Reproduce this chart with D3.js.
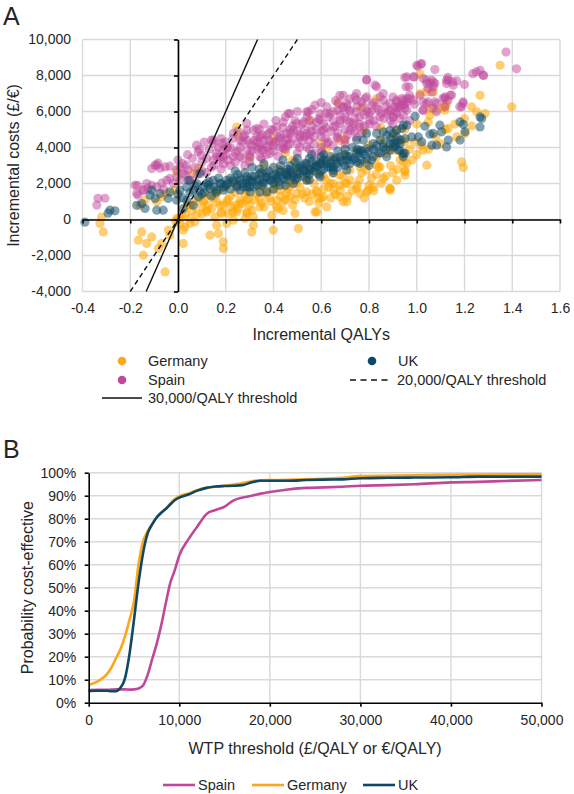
<!DOCTYPE html>
<html><head><meta charset="utf-8">
<script src="https://cdn.jsdelivr.net/npm/d3@7"></script>
<style>
body{margin:0;background:#fff}
text{font-family:"Liberation Sans",Arial,sans-serif;fill:#262626}
</style></head>
<body><svg id="c" width="574" height="794"></svg>
<script>
// ---------- DATA (panel A: [incremental QALYs, incremental cost in thousands]) ----------
const germanyPts = [[-.32,.14],[-.327,-.22],[-.313,-.69],
[-.152,-.69],[-.166,-1.15],[-.131,-1.33],[-.11,-.97],[-.145,-1.98],[-.054,-2.91],[-.04,-.59],[-.034,-.87],[-.068,-1.33],[-.082,-1.61],
[-.005,.06],[.008,-.22],[.029,-.41],[.05,-.22],[.071,-.13],[.022,-.59],[.022,-1.33],[.05,.06],[.015,.24],
[.12,.42],[.155,.14],[.162,-.32],[.183,.33],[.19,-1.61],[.19,-1.24],[.204,-.22],[.232,-.04],[.134,-.87],[.169,-.78],[.211,.33],[.239,.79],[.246,.42],[.281,.06],[.288,.42],
[-.159,.79],[-.138,1.07],[-.089,.98],[-.068,1.26],[-.047,1.44],[-.013,1.63],
[.106,.98],[.127,.79],[.162,.98],[.176,.79],[.204,.98],[.26,1.07],[.295,1.17],[.225,.7],
[-.005,2.64],[.085,2.83],[.064,2.55],
[.316,-.32],[.309,-.69],[.399,-.59],[.504,-.5],
[.288,.33],[.316,.14],[.393,.24],[.413,1.07],[.441,.98],[.469,1.26],[.497,1.44],[.539,1.53],[.581,1.53],[.49,.33],[.574,.42],[.623,.7],[.588,1.17],[.609,1.26],[.678,1.26],[.707,.98],[.651,1.63],[.678,1.9],[.707,2.0],[.748,1.72],[.762,1.44],[.79,1.53],[.818,1.81],[.86,2.28],[.888,1.72],[.916,2.18],[.951,2.46],[.958,3.11],[.93,3.3],[.902,3.85],[.832,3.48],[.874,3.67],[.846,2.92],[.79,2.74],
[.26,.89],[.288,1.07],[.343,1.17],[.372,1.44],[.399,1.63],[.427,1.63],[.469,1.81],[.413,.7],[.343,.7],[.455,1.44],[.497,2.0],[.539,2.18],[.609,2.37],[.651,2.55],[.678,2.46],[.72,2.74],[.637,2.0],[.762,2.92],[.79,3.11],[.832,3.02],
[1.349,8.57],[1.265,6.9],[1.398,6.26],[1.23,6.26],[1.251,5.98],[1.286,5.89],[1.188,3.2],[1.195,2.89],[1.014,7.0],[1.069,7.09],[1.118,6.26],[1.118,6.07],[1.055,6.16],[1.055,5.79],[1.048,5.42],[1.132,5.06],[1.167,4.59],[1.202,4.78],[1.027,3.85],[1.042,3.02],[.951,2.65],[.944,3.2],[.916,4.96],[.937,4.41],[.888,1.72],[1.014,8.07],[1.04,7.09],[1.083,6.07],[1.111,6.26],[1.125,6.44],
[.951,2.74],[.888,1.63],[.797,1.63],[.692,.98],[.581,.42],
[.35,.9],[.38,1.2],[.42,.6],[.45,1.1],[.48,.8],[.52,1.4],[.55,1.0],[.58,1.6],[.6,1.2],[.63,1.8],[.66,1.4],[.7,2.0],[.73,1.6],[.76,2.2],[.8,1.9],[.83,2.5],[.85,2.0],[.9,2.6],[.98,3.3],[1.0,3.6],[1.05,3.9],[1.1,4.2],[.12,.5],[.15,1.2],[.18,.4],[.22,1.3],[.25,.6],[.28,1.4],[.3,.8],[.32,1.1],
[.246,5.14],[.253,4.68],[.67,6.5],[.77,6.2],[.83,6.7],[.4,4.5],[.55,5.5],[.85,5.1],[.88,4.0],
[0,0],[.01,.1],[-.01,-.1],[.03,.3],[.06,.5],[.08,.3],[.1,.7],[.04,.8],[.09,1.2],[.13,1.4],[.17,1.6],[.2,1.8],[.24,2.0],[.3,2.2],[.35,2.4],[.4,2.1],[.45,2.6],[.5,2.8],[.55,3.0],[.6,3.2],[.65,3.4],[.7,3.6],[.75,3.8],[.8,4.1],[.85,4.4],[.9,4.6],[.95,5.0],[1.0,5.3],[.7,4.5],[.62,3.9],[.48,3.3],[.36,3.0],
[.05,.8],[.07,1.0],[.1,.3],[.11,1.1],[.14,.6],[.16,1.4],[.19,.8],[.21,1.1],[.23,.4],[.24,1.5],[.27,.9],[.29,1.6],[.31,.5],[.33,1.4],[.34,1.8],[.36,.7],[.37,1.6],[.39,1.0],[.41,1.9],[.43,1.3],[.44,.5],[.46,1.7],[.47,2.1],[.49,1.1],[.51,1.8],[.53,1.2],[.54,2.3],[.56,1.4],[.57,2.0],[.59,.9],[.61,1.7],[.62,2.2],[.64,1.2],[.65,2.0],[.68,1.6],[.69,2.4],[.71,1.3],[.72,2.2],[.75,1.9],[.77,2.6],[.78,1.2],[.81,2.3],[.82,1.6],[.84,2.9],[.87,2.4],[.89,3.0],[.92,2.8],[.94,3.6],[.97,3.9],[.99,4.3],[1.02,4.1],[1.08,4.6],[1.12,5.0],[1.16,5.3],[1.2,5.6],[1.23,5.2],
[.3,3.4],[.45,3.7],[.6,4.2],[.68,4.4],[.78,4.9],[.95,4.3],[.5,2.5],[.42,2.8],[.58,2.6]];

const spainPts = [[-.335,1.18],[-.306,1.18],[-.34,.8],
[-.089,3.02],[-.075,2.85],[-.034,2.96],[-.084,3.13],[0,3.3],[.034,3.02],[.042,2.74],[.078,4.13],[.084,3.76],
[.141,4.41],[.147,4.24],[.183,4.24],[.189,3.85],[.209,4.03],[.162,3.48],[.176,3.3],
[-.18,1.9],[-.168,1.35],[-.147,1.63],[-.126,1.74],[-.11,1.9],[-.089,1.81],[-.068,2.02],[-.047,2.18],
[-.034,2.29],[-.005,2.37],[.008,2.18],[.021,2.57],[.05,2.18],[.008,2.92],[-.005,2.74],
[-.11,2.83],[-.096,3.02],[-.054,2.92],[-.17,1.9],[-.173,1.44],[-.145,1.63],[-.131,2.0],
[.099,3.57],[.148,4.41],[.204,3.94],[.232,4.78],[.26,4.41],[.288,4.96],[.33,5.06],
[.148,3.3],[.176,3.48],[.232,3.48],[.302,3.48],[.357,3.85],
[.79,7.78],[.832,7.37],[.825,7.46],[.958,7.92],[.955,7.37],
[.678,6.9],[.692,6.9],[.671,6.44],[.748,7.0],[.741,6.81],[.783,6.72],[.769,6.53],
[.574,6.35],[.623,6.26],[.637,5.89],[.595,5.89],[.546,5.98],[.553,5.52],[.525,5.42],[.497,5.33],[.462,5.89],[.441,5.42],[.413,5.14],[.399,4.96],[.372,4.68],[.343,4.59],
[.692,6.26],[.707,6.44],[.72,6.07],[.748,5.98],[.776,6.26],[.811,6.35],[.832,6.26],[.86,6.63],[.888,6.44],[.916,6.53],[.93,6.26],[.944,6.35],[.958,6.72],
[.511,4.59],[.539,4.78],[.609,4.96],[.651,5.14],[.678,5.33],[.707,5.52],[.734,5.33],[.762,5.14],[.804,5.52],[.846,5.7],[.874,5.89],[.902,5.7],
[.288,5.33],[.316,4.96],[.274,4.59],[.302,4.22],[.343,4.22],[.372,4.03],[.399,4.31],[.427,4.5],[.455,4.78],[.483,4.96],[.385,3.67],[.343,3.48],[.288,3.85],[.441,3.94],[.469,4.22],[.539,4.03],
[.574,3.67],[.602,3.76],[.623,4.22],[.72,4.96],[.748,4.59],[.7,4.41],[.665,4.59],
[.469,5.89],[.539,5.98],[.595,5.52],[.79,7.74],[.846,6.81],[.79,6.81],[.748,6.63],[.707,6.26],[.671,6.07],
[.909,6.26],[.944,6.63],[.986,6.63],[1.014,6.9],[1.048,6.53],[1.027,6.07],[.944,5.79],[.958,6.07],
[1.118,6.81],[1.132,7.74],[1.083,6.44],[1.042,7.55],[1.027,7.83],[1.062,7.74],[1.076,7.55],[1.125,7.55],[1.153,7.46],
[1.0,8.57],[1.02,8.66],[1.076,8.33],[.95,7.89],[.986,7.92],
[1.374,9.3],[1.418,8.37],[1.265,8.29],[1.235,8.1],[1.25,8.2],[1.28,8.0],[1.2,7.5],[1.167,7.7],[1.125,7.74],[1.13,7.9],[1.018,8.63],[1.005,8.52],[1.04,7.74],[1.055,7.55],[1.07,7.64],[1.047,7.28],[1.07,7.37],[1.063,7.09],[.99,7.92],[.967,7.37],[.916,6.63],[.937,6.72],[.958,6.53],[.951,6.44],[.93,6.35],[.972,6.72],[.888,6.07],[.9,5.7],[.916,5.89],[1.026,6.53],[1.04,6.44],[1.076,6.53],[1.118,6.72],[1.131,6.63],[1.194,6.53],[1.188,6.26],[1.146,6.91],[1.026,6.07],[1.068,6.18],[1.083,5.98],[1.118,6.26],[1.278,8.02],[1.194,6.46],[1.18,6.26],[1.15,7.65],[1.14,6.9],[1.11,6.73],
[.2,3.6],[.22,4.0],[.25,3.8],[.27,4.3],[.3,3.6],[.31,4.1],[.33,4.6],[.35,3.9],[.36,4.4],[.38,4.8],[.4,3.8],[.41,4.3],[.43,4.7],[.45,3.9],[.46,4.5],[.48,5.2],[.5,4.2],[.51,4.7],[.53,5.0],[.55,4.4],[.56,4.9],[.58,5.4],[.6,4.6],[.62,5.1],[.63,4.3],[.65,5.5],[.67,4.8],[.68,5.8],[.7,5.0],[.72,5.4],[.74,4.9],[.76,5.7],[.78,5.2],[.8,5.9],[.82,5.5],[.84,6.1],[.86,5.6],[.88,6.0],[.9,5.3],[.92,6.2],[.3,3.2],[.35,3.4],[.42,3.5],[.5,3.7],[.55,3.9],[.6,4.0],[.65,4.1],[.7,4.2],[.15,3.0],[.12,2.6],[.1,3.2],[.18,2.8],[.05,2.2],[.08,2.5],[.24,3.2],[.28,3.0],[.38,4.1],[.44,4.2],[.52,4.4],[.57,4.6],[.47,4.8],[.33,4.3],[.26,3.5],[.19,3.1],[.13,3.9],[.06,3.4],[.03,2.5],[-.02,2.0],[-.06,1.7],
[.07,2.9],[.1,2.7],[.12,3.4],[.14,2.9],[.09,3.9],[.11,4.3],[.16,3.7],[.18,4.5],[.04,3.6],[.02,3.1],
[.2,4.3],[.21,3.3],[.23,4.5],[.24,3.7],[.26,4.0],[.27,3.4],[.29,4.4],[.22,3.0],[.25,4.9],[.28,4.7],[.17,4.0],[.19,3.5],
[.31,3.8],[.32,4.4],[.34,4.0],[.35,4.7],[.37,3.6],[.38,4.4],[.39,5.0],[.4,4.1],[.42,4.6],[.43,4.0],[.44,5.1],[.36,5.3],[.41,5.5],[.33,3.9],[.45,4.4],[.34,5.0],
[.46,4.1],[.47,5.0],[.48,4.5],[.49,5.5],[.5,4.9],[.51,4.0],[.52,5.3],[.53,4.6],[.54,5.7],[.55,4.7],[.56,5.2],[.57,4.2],[.58,5.0],[.59,5.6],[.6,4.9],[.5,6.0],[.56,6.1],[.45,5.7],
[.61,5.3],[.62,4.5],[.63,5.7],[.64,4.9],[.65,6.0],[.66,5.2],[.67,4.5],[.68,5.5],[.69,6.2],[.7,5.7],[.71,4.7],[.72,6.0],[.73,5.1],[.74,5.6],[.75,6.3],[.76,5.3],[.77,4.8],[.78,5.8],[.79,6.0],[.8,5.3],[.66,6.6],[.72,6.7],[.62,5.9],[.6,6.5],
[.81,6.0],[.83,5.2],[.85,5.9],[.87,6.3],[.89,5.5],[.91,6.0],[.93,5.6],[.95,6.2],[.97,6.9],[.99,6.4],[.86,7.0],[.9,6.8],[.82,6.5],[.97,5.5]];

const ukPts = [[-.39,-.15],[-.285,.52],[-.264,.48],[-.293,.35],
[-.173,.79],[-.152,.89],[-.138,.61],[-.089,.52],[-.062,.52],[-.041,1.17],[-.034,1.53],[-.075,1.44],[-.11,1.63],[-.117,1.35],[-.096,1.17],[.008,1.63],[.036,1.81],[.064,1.63],[.064,.79],[.085,1.26],[.106,1.81],[.134,1.72],[.148,2.18],[.176,2.0],[.204,2.18],[.232,2.09],[.26,2.18],[.288,1.81],[.078,2.0],[.12,2.0],[.162,1.63],[.19,1.63],[.246,1.81],[.288,2.37],[.022,.61],[.036,1.07],[-.005,1.07],
[.043,2.18],[.092,2.55],[.127,1.9],
[.944,3.67],[.93,4.41],[.916,4.59],[.902,4.22],[.888,3.85],[.86,4.03],[.846,4.41],[.818,4.22],[.79,3.94],[.776,4.41],[.762,3.85],[.748,3.67],[.734,3.3],[.707,3.3],[.678,3.48],[.665,3.11],[.651,3.3],[.637,2.92],[.609,3.3],[.595,3.11],[.581,2.92],[.553,2.74],[.539,3.11],[.525,2.74],[.511,2.55],[.497,2.92],[.483,2.37],[.469,2.74],[.455,2.46],[.427,2.64],[.413,2.28],[.399,2.46],[.385,2.18],[.372,2.37],[.357,2.09],[.343,2.55],[.33,2.18],[.316,1.81],[.302,2.18],[.288,2.0],[.274,1.81],[.26,1.63],[.302,1.53],[.343,1.53],[.372,1.53],[.427,1.9],[.483,2.0],[.539,2.18],[.595,2.37],[.651,2.74],[.707,2.74],[.762,3.11],[.818,3.48],[.874,3.48],[.93,3.85],[.748,4.41],[.79,4.78],[.832,4.78],[.874,4.68],[.916,4.96],[.944,5.24],[.951,4.5],[.86,4.87],
[.993,5.73],[1.034,5.18],[1.055,4.74],[1.069,4.78],[1.097,5.24],[1.104,4.87],[1.132,4.41],[1.125,4.03],[1.083,4.13],[1.063,4.13],[1.021,4.31],[1.007,4.59],[.979,4.59],[1.181,5.42],[1.195,5.28],[1.202,4.87],[1.181,4.41],[1.265,5.7],[1.265,5.14],[1.272,5.61],[.888,4.96],[.902,4.78],[.916,4.31],[.93,4.22],[.951,3.67],[.944,3.48],[.902,4.03],[.888,4.22],[.923,3.85],[.937,5.06],[.958,5.24],
[.2,1.9],[.22,2.3],[.25,2.5],[.28,2.6],[.31,2.4],[.34,2.8],[.37,2.6],[.4,2.9],[.43,3.0],[.46,2.8],[.49,3.2],[.52,3.0],[.55,3.4],[.58,3.2],[.61,3.6],[.64,3.5],[.67,3.8],[.7,3.6],[.73,4.0],[.76,3.7],[.79,3.4],[.82,3.9],[.35,1.9],[.4,2.0],[.45,2.2],[.5,2.3],[.55,2.5],[.6,2.7],[.65,2.9],[.7,3.0],[.75,3.2],[.8,3.0],[.85,3.7],[.1,1.4],[.14,1.3],[.17,2.3],[.24,2.7],[.31,2.9],[.36,3.1],[.42,2.4],[.47,2.6],[.53,2.7],[.57,2.9],[.62,3.1],[.68,3.3],[.72,3.5],[.77,3.8],[.56,3.6],[.5,3.4],[.44,3.3],
[0,1.4],[.02,1.2],[.05,1.5],[.07,1.9],[.09,1.6],[.11,1.5],[.13,2.1],[.15,1.8],[.16,1.5],[.18,2.0],[.19,1.8],[.21,2.0],[.22,1.7],[.23,2.2],[.25,1.9],[.26,2.3],[.27,2.0],[.29,2.2],[.3,1.8],[.31,2.1],[.32,2.4],[.33,1.9],[.34,2.2],[.35,2.6],[.36,2.0],[.37,2.3],[.38,2.7],[.39,2.2],[.41,2.5],[.42,2.1],[.43,2.7],[.44,2.3],[.45,2.6],[.46,2.4],[.47,3.0],[.48,2.5],[.49,2.2],[.5,2.7],[.51,2.9],[.52,2.4],[.53,3.1],[.54,2.6],[.55,2.8],[.56,3.2],[.57,2.7],[.58,3.0],[.59,2.5],[.6,3.1],[.61,2.8],[.62,3.3],[.63,2.9],[.64,3.1],[.66,3.4],[.67,2.9],[.69,3.2],[.71,3.5],[.72,3.1],[.74,3.4],[.75,3.9],[.77,3.3],[.78,3.6],[.8,3.8],[.81,3.3],[.83,4.1],[.84,3.7],[.86,4.2],[.87,3.9],[.89,4.5],[.91,4.1],[.6,3.5],[.7,3.9],[.4,1.7],[.45,1.9],[.55,2.2],[.65,2.6]];

const qalyTicks = [-0.4,-0.2,0,0.2,0.4,0.6,0.8,1.0,1.2,1.4,1.6];
const costTicks = [-4000,-2000,0,2000,4000,6000,8000,10000];
const thresholds = [20000, 30000];   // £/€ per QALY

// ---------- DATA (panel B: CEAC) ----------
const wtp = [0,1000,2000,2500,3000,3500,4000,4500,5000,5500,6000,6500,7000,7500,8000,8500,9000,9500,10000,11000,12000,13000,14000,15000,16000,17000,18000,19000,20000,22000,24000,26000,28000,30000,33000,36000,40000,43000,46000,50000];
const spainCE   = [5.5,5.6,5.6,5.7,5.8,5.8,5.8,5.7,5.8,6.2,7.5,12,18.8,25.5,33.5,43,52,57.5,64,71,76.6,82,83.8,85.2,88,89.2,90,90.9,91.6,92.7,93.4,93.6,93.9,94.3,94.6,95,95.8,96,96.4,96.8];
const germanyCE = [7.7,9.3,12.3,15.2,19.2,23.2,28.7,36,44,60,70,74.5,77.5,80.5,82.8,84.3,86.5,88.6,89.8,91,92.5,93.4,93.9,94.3,94.8,95.5,96.3,96.7,96.8,96.9,97.1,97.4,97.8,98.5,98.7,98.9,99.1,99.2,99.3,99.3];
const ukCE      = [5.1,5.2,5.2,5.0,5.0,6.5,10.5,21,36,52,65,73.5,77.5,80.5,82.5,84.2,86.2,88,89.2,90.5,92.2,93.4,94,94.2,94.3,94.6,95.8,96.5,96.5,96.5,96.8,97,97.1,97.6,97.8,97.9,98,98.3,98.3,98.3];
const wtpTicks = [0,10000,20000,30000,40000,50000];
const pctTicks = [0,10,20,30,40,50,60,70,80,90,100];

const colors = {Germany:"#FFA51C", Spain:"#C0489B", UK:"#0E4864"};
const scatterColors = {Germany:"#FFA500", Spain:"#C0489B", UK:"#0E4A68"};

const svg = d3.select("#c");
const fmtNum = d => d3.format(",")(d).replace("\u2212","-");

// ================= PANEL A =================
const xA = d3.scaleLinear().domain([-0.4,1.6]).range([82.5,560]);
const yA = d3.scaleLinear().domain([-4000,10000]).range([291.5,39.5]);
const A = svg.append("g");

A.append("g").selectAll("line").data(qalyTicks).join("line")
  .attr("x1",d=>xA(d)).attr("x2",d=>xA(d)).attr("y1",yA(-4000)).attr("y2",yA(10000))
  .attr("stroke","#d9d9d9").attr("stroke-width",1.4);
A.append("g").selectAll("line").data(costTicks).join("line")
  .attr("y1",d=>yA(d)).attr("y2",d=>yA(d)).attr("x1",xA(-0.4)).attr("x2",xA(1.6))
  .attr("stroke","#d9d9d9").attr("stroke-width",1.4);

const axBA = A.append("g").attr("transform",`translate(0,${yA(-4000)})`)
  .call(d3.axisBottom(xA).tickValues(qalyTicks).tickSize(0).tickPadding(12)
    .tickFormat(d=>d3.format(".1f")(d).replace("\u2212","-")));
axBA.select(".domain").remove();
const axLA = A.append("g").attr("transform",`translate(${xA(-0.4)},0)`)
  .call(d3.axisLeft(yA).tickValues(costTicks).tickSize(0).tickPadding(11.5).tickFormat(fmtNum));
axLA.select(".domain").remove();
A.selectAll(".tick text").attr("font-size",14).attr("font-family",null).style("fill","#262626");

function drawPts(pts, col, op){
  A.append("g").selectAll("circle").data(pts).join("circle")
    .attr("cx",d=>xA(d[0])).attr("cy",d=>yA(d[1]*1000)).attr("r",4.6)
    .attr("fill",col).attr("fill-opacity",op);
}
drawPts(germanyPts, scatterColors.Germany, 0.55);
drawPts(spainPts, scatterColors.Spain, 0.5);
drawPts(ukPts, scatterColors.UK, 0.52);

const zx = A.append("g").attr("transform",`translate(0,${yA(0)})`)
  .call(d3.axisBottom(xA).tickValues(qalyTicks).tickSize(4).tickSizeOuter(0).tickFormat(""));
zx.selectAll("path,line").attr("stroke","#000").attr("stroke-width",1.6);
const zy = A.append("g").attr("transform",`translate(${xA(0)},0)`)
  .call(d3.axisLeft(yA).tickValues(costTicks).tickSize(4).tickSizeOuter(0).tickFormat(""));
zy.selectAll("path,line").attr("stroke","#000").attr("stroke-width",1.6);

thresholds.forEach(l=>{
  const x0 = -4000/l, x1 = 10000/l;
  A.append("line").attr("x1",xA(x0)).attr("y1",yA(-4000)).attr("x2",xA(x1)).attr("y2",yA(10000))
    .attr("stroke","#111").attr("stroke-width",1.4)
    .attr("stroke-dasharray", l===20000 ? "5,3.5" : null);
});

A.append("text").attr("x",3).attr("y",25).attr("font-size",25).text("A");
A.append("text").attr("x",(xA(-0.4)+xA(1.6))/2).attr("y",340).attr("text-anchor","middle").attr("font-size",16).text("Incremental QALYs");
A.append("text").attr("transform",`translate(19,${(yA(-4000)+yA(10000))/2}) rotate(-90)`).attr("text-anchor","middle").attr("font-size",16).text("Incremental costs (£/€)");

const LA = A.append("g");
[["Germany",122,361],["Spain",122,380],["UK",372,361]].forEach(([n,x,y])=>{
  LA.append("circle").attr("cx",x).attr("cy",y).attr("r",4.3).attr("fill",colors[n]);
  LA.append("text").attr("x",x+26).attr("y",y+5).attr("font-size",14.5).text(n);
});
LA.append("line").attr("x1",350).attr("x2",390).attr("y1",380).attr("y2",380).attr("stroke","#111").attr("stroke-width",1.4).attr("stroke-dasharray","6,4.5");
LA.append("text").attr("x",397).attr("y",385).attr("font-size",14.5).text("20,000/QALY threshold");
LA.append("line").attr("x1",102).attr("x2",142).attr("y1",398).attr("y2",398).attr("stroke","#111").attr("stroke-width",1.4);
LA.append("text").attr("x",148).attr("y",403).attr("font-size",14.5).text("30,000/QALY threshold");

// ================= PANEL B =================
const xB = d3.scaleLinear().domain([0,50000]).range([88.7,541.5]);
const yB = d3.scaleLinear().domain([0,100]).range([702.7,472.7]);
const B = svg.append("g");

B.append("g").selectAll("line").data(wtpTicks.slice(1)).join("line")
  .attr("x1",d=>xB(d)).attr("x2",d=>xB(d)).attr("y1",yB(0)).attr("y2",yB(100))
  .attr("stroke","#d9d9d9").attr("stroke-width",1.4);
B.append("g").selectAll("line").data(pctTicks.slice(1)).join("line")
  .attr("y1",d=>yB(d)).attr("y2",d=>yB(d)).attr("x1",xB(0)).attr("x2",xB(50000))
  .attr("stroke","#d9d9d9").attr("stroke-width",1.4);

const lineGen = vals => d3.line().x((d,i)=>xB(wtp[i])).y(d=>yB(d)).curve(d3.curveMonotoneX)(vals);
[["Spain",spainCE],["Germany",germanyCE],["UK",ukCE]].forEach(([n,v])=>{
  B.append("path").attr("d",lineGen(v)).attr("fill","none").attr("stroke",colors[n]).attr("stroke-width",2.6).attr("stroke-linejoin","round");
});

const bx = B.append("g").attr("transform",`translate(0,${yB(0)})`)
  .call(d3.axisBottom(xB).tickValues(wtpTicks).tickSize(4).tickSizeOuter(0).tickPadding(8).tickFormat(fmtNum));
bx.selectAll("path,line").attr("stroke","#000").attr("stroke-width",1.6);
const by = B.append("g").attr("transform",`translate(${xB(0)},0)`)
  .call(d3.axisLeft(yB).tickValues(pctTicks).tickSize(4).tickSizeOuter(0).tickPadding(8.5).tickFormat(d=>d+"%"));
by.selectAll("path,line").attr("stroke","#000").attr("stroke-width",1.6);
B.selectAll(".tick text").attr("font-size",14).attr("font-family",null).style("fill","#262626");

B.append("text").attr("x",3).attr("y",458).attr("font-size",25).text("B");
B.append("text").attr("x",(xB(0)+xB(50000))/2).attr("y",754).attr("text-anchor","middle").attr("font-size",16).text("WTP threshold (£/QALY or €/QALY)");
B.append("text").attr("transform",`translate(32.5,${(yB(0)+yB(100))/2}) rotate(-90)`).attr("text-anchor","middle").attr("font-size",16).text("Probability cost-effective");

const LB = B.append("g");
[["Spain",163],["Germany",252],["UK",363]].forEach(([n,x])=>{
  LB.append("line").attr("x1",x).attr("x2",x+32).attr("y1",785).attr("y2",785).attr("stroke",colors[n]).attr("stroke-width",2.6);
  LB.append("text").attr("x",x+35).attr("y",790).attr("font-size",14.5).text(n);
});
</script></body></html>
